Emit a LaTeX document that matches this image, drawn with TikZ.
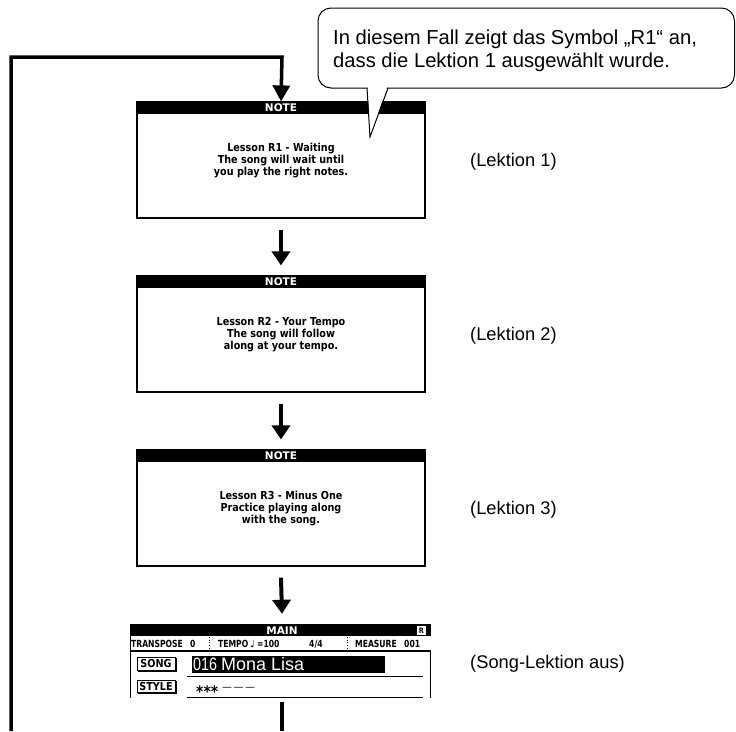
\documentclass[tikz,border=0pt]{standalone}
\usepackage{fontspec}
\setmainfont{Liberation Sans}
\newfontfamily\lcd{DejaVu Sans}[FakeStretch=0.875]
\newfontfamily\lcdn{DejaVu Sans}[FakeStretch=0.78]
\newfontfamily\digits{Liberation Sans}[FakeStretch=0.8]
\newfontfamily\dvs{DejaVu Sans}
\usetikzlibrary{arrows.meta}
\begin{document}
\begin{tikzpicture}[x=1pt,y=-1pt,
  notebox/.style={draw, line width=1.2pt, minimum width=288pt, minimum height=116pt, inner sep=0pt},
  notetitle/.style={text=white, font=\dvs\bfseries\fontsize{10.5}{10.5}\selectfont, inner sep=0pt},
  notetext/.style={align=center, font=\lcd\bfseries\fontsize{11}{11.7}\selectfont, inner sep=0pt},
  sidelabel/.style={anchor=west, font=\fontsize{18.3}{20}\selectfont, inner sep=0pt},
  bubbletext/.style={anchor=base west, font=\fontsize{20.2}{22}\selectfont, inner sep=0pt},
  flowarrow/.style={line width=4pt, -{Triangle[width=18pt,length=14pt]}},
  loopline/.style={line width=3.5pt},
  rowtxt/.style={anchor=west, font=\lcdn\bfseries\fontsize{9.8}{10}\selectfont, inner sep=0pt},
  lbltxt/.style={font=\lcd\bfseries\fontsize{11}{11}\selectfont, inner sep=0pt},
  songtxt/.style={anchor=base west, text=white, font=\fontsize{18}{18}\selectfont, inner sep=0pt},
  sep/.style={dotted, line width=0.7pt},
]
\useasboundingbox (0,0) rectangle (736,731);

% NOTE boxes
\node[notebox] (b1) at (281,160) {};
\node[notebox] (b2) at (281,334) {};
\node[notebox] (b3) at (281,508) {};
\foreach \b in {b1,b2,b3}{
  \fill (\b.north west) rectangle ([yshift=-13pt]\b.north east);
  \node[notetitle] at ([yshift=-6.5pt]\b.north) {NOTE};
}
\node[notetext] (t1) at ([yshift=-59pt]b1.north) {Lesson R1 - Waiting\\The song will wait until\\you play the right notes.};
\node[notetext] (t2) at ([yshift=-59pt]b2.north) {Lesson R2 - Your Tempo\\The song will follow\\along at your tempo.};
\node[notetext] (t3) at ([yshift=-59pt]b3.north) {Lesson R3 - Minus One\\Practice playing along\\with the song.};

% screen
\node[minimum width=300pt, minimum height=74pt, inner sep=0pt] (scr) at (282,661) {};
\fill (130,624) rectangle (431,636);
\node[notetitle] (main) at (282,630.5) {MAIN};
\fill[white] (417,626) rectangle (426,635);
\node[font=\lcd\bfseries\fontsize{7.5}{7.5}\selectfont, inner sep=0pt] (ricon) at (421.5,630.7) {R};
\node[rowtxt] (tr) at (131,643.5) {TRANSPOSE};
\node[rowtxt] (tr0) at (190,643.5) {0};
\draw[sep] (209,637) -- (209,650);
\node[rowtxt] (tp) at (218,643.5) {TEMPO};
\node[anchor=west, font=\dvs\fontsize{10}{10}\selectfont, inner sep=0pt] (note) at (250,643.5) {♩};
\node[rowtxt] (tpv) at (257,643.5) {=100};
\node[rowtxt, anchor=base west] (ts) at (309,647) {4/4};
\draw[sep] (347,637) -- (347,650);
\node[rowtxt] (ms) at (355,643.5) {MEASURE};
\node[rowtxt] (msv) at (404,643.5) {001};
\draw[line width=1.8pt] (130,651) -- (431,651);
\draw[line width=1pt] (130.5,636) -- (130.5,698);
\draw[line width=1pt] (430.5,651) -- (430.5,698);
% SONG row
\draw[line width=0.8pt] (137,657) rectangle (175,670);
\draw[line width=1.3pt] (176.5,658) -- (176.5,671.5) -- (138,671.5);
\node[lbltxt] (song) at (156,663.8) {SONG};
\fill (192,656) rectangle (385,673);
\node[songtxt, font=\digits\fontsize{18}{18}\selectfont] (num) at (193,670) {016};
\node[songtxt] (name) at (221,670) {Mona Lisa};
\draw[line width=1pt] (187,676.5) -- (423,676.5);
% STYLE row
\draw[line width=0.8pt] (137,680) rectangle (175,692);
\draw[line width=1.3pt] (176.5,681) -- (176.5,693.5) -- (138,693.5);
\node[lbltxt] (style) at (156,686.3) {STYLE};
\node[anchor=base west, font=\lcd\bfseries\fontsize{16}{16}\selectfont, inner sep=0pt] (stars) at (196,697) {***};
\node[anchor=west, font=\dvs\fontsize{10}{10}\selectfont, inner sep=0pt] (dash) at (222,689) {—\kern1.5pt—\kern1.5pt—};
\draw[line width=1pt] (187,697) -- (423,697);

% connectors
\draw[flowarrow] ([yshift=-11pt]b1.south) -- ([yshift=10pt]b2.north);
\draw[flowarrow] ([yshift=-11pt]b2.south) -- ([yshift=10pt]b3.north);
\draw[flowarrow] ([yshift=-11pt]b3.south) -- ([yshift=10pt]scr.north);
\coordinate (bottomend) at (282,731);
\draw[loopline] ([yshift=-4pt]scr.south) -- (bottomend);
\coordinate (loopbot) at (11,731);
\coordinate (looptop) at (282,57);
\draw[loopline, -{Triangle[width=17pt,length=16pt]}] (loopbot) |- (looptop) -- (b1.north);

% labels
\node[sidelabel] (l1) at (470,162) {(Lektion 1)};
\node[sidelabel] (l2) at (470,336) {(Lektion 2)};
\node[sidelabel] (l3) at (470,510) {(Lektion 3)};
\node[sidelabel] (l4) at (470,664) {(Song-Lektion aus)};

% bubble
\draw[line width=1pt, fill=white, rounded corners=13pt] (318,8) rectangle (734.5,88);
\fill[white] (367.5,86) -- (370,137) -- (387.5,86) -- cycle;
\draw[line width=1pt, line join=miter] (367,88) -- (370,137) -- (388,88);
\node[bubbletext] (bt1) at (333,44.5) {In diesem Fall zeigt das Symbol „R1“ an,};
\node[bubbletext] (bt2) at (333,67.5) {dass die Lektion 1 ausgewählt wurde.};
\end{tikzpicture}
\end{document}
